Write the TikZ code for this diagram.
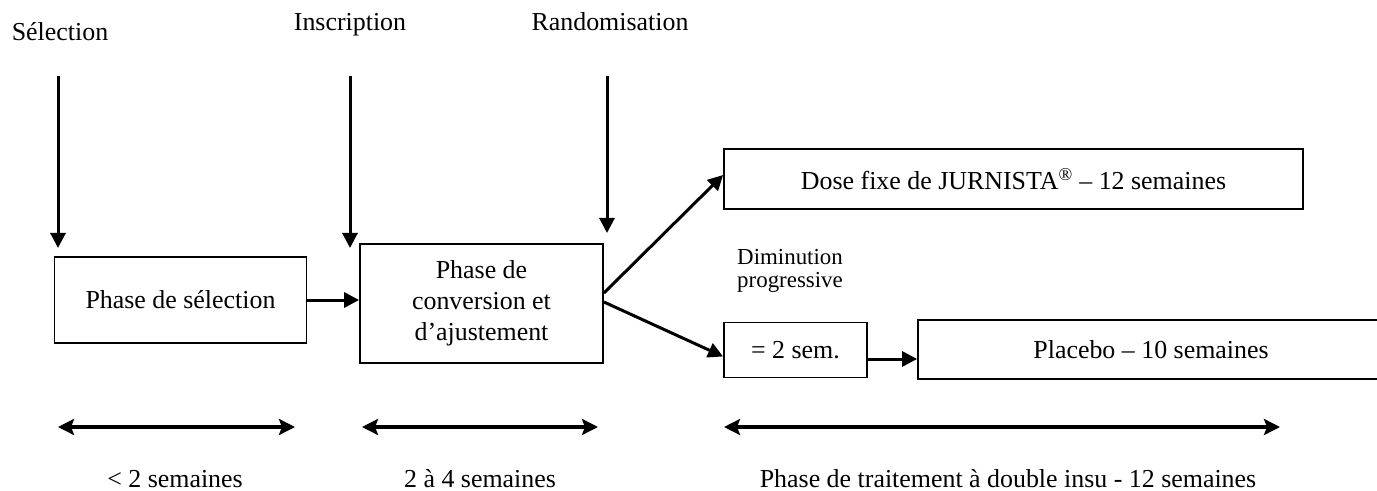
\documentclass[tikz,border=0pt]{standalone}
\usepackage{fontspec}
\setmainfont{Liberation Serif}
\usetikzlibrary{arrows.meta}
\tikzset{
  box/.style={draw, line width=1.8bp, inner sep=0pt, align=center, font=\fontsize{26}{31}\selectfont},
  arr/.style={line width=3bp, -{Triangle[length=15bp,width=15bp]}},
  dbl/.style={line width=3.2bp, {Stealth[length=16bp,width=16bp,inset=3bp]}-{Stealth[length=16bp,width=16bp,inset=3bp]}},
  lbl/.style={anchor=base, inner sep=0pt, font=\fontsize{26}{31}\selectfont},
}
\begin{document}
\begin{tikzpicture}[x=1bp,y=-1bp]
\path[use as bounding box, clip] (0,0) rectangle (1377,491);
% top labels
\node[lbl] (sel) at (60,41) {Sélection};
\node[lbl] (ins) at (350,31) {Inscription};
\node[lbl] (ran) at (610,31) {Randomisation};
% boxes
\node[box, minimum width=252bp, minimum height=86bp] (b1) at (180.5,300) {Phase de sélection};
\node[box, minimum width=243bp, minimum height=119bp] (b2) at (481.5,303.5) {Phase de\\conversion et\\d’ajustement};
\node[box, minimum width=579bp, minimum height=60bp] (dose) at (1013.5,179) {Dose fixe de JURNISTA\textsuperscript{®} – 12 semaines};
\node[box, minimum width=143bp, minimum height=55bp] (sm) at (795.5,350) {\raisebox{-6bp}{= 2 sem.}};
\node[box, minimum width=466bp, minimum height=59bp] (pl) at (1151,349.5) {Placebo – 10 semaines};
\node[anchor=north west, inner sep=0pt, align=left, font=\fontsize{23}{23}\selectfont] (dim) at (737,249.5) {Diminution\\progressive};
% vertical arrows
\coordinate (s1) at (58,76);  \coordinate (t1) at (58,248);
\coordinate (s2) at (350,76); \coordinate (t2) at (350,248);
\coordinate (s3) at (607,76); \coordinate (t3) at (607,233);
\draw[arr] (s1) -- (t1);
\draw[arr] (s2) -- (t2);
\draw[arr] (s3) -- (t3);
% flow arrows
\draw[arr] (b1.east) -- (b1.east -| b2.west);
\draw[arr] ([yshift=10.5bp]b2.east) -- ([yshift=4bp]dose.west);
\draw[arr] ([yshift=1.5bp]b2.east) -- ([yshift=-6.5bp]sm.west);
\draw[arr] ([yshift=-9bp]sm.east) -- ([yshift=-9bp]sm.east -| pl.west);
% duration arrows
\coordinate (d1a) at (58,427);  \coordinate (d1b) at (295,427);
\coordinate (d2a) at (362,427); \coordinate (d2b) at (598,427);
\coordinate (d3a) at (724,427); \coordinate (d3b) at (1280,427);
\draw[dbl] (d1a) -- (d1b);
\draw[dbl] (d2a) -- (d2b);
\draw[dbl] (d3a) -- (d3b);
% durations
\node[lbl] (w1) at (175,487) {< 2 semaines};
\node[lbl] (w2) at (480,487) {2 à 4 semaines};
\node[lbl] (w3) at (1008,487) {Phase de traitement à double insu - 12 semaines};
\end{tikzpicture}
\end{document}
